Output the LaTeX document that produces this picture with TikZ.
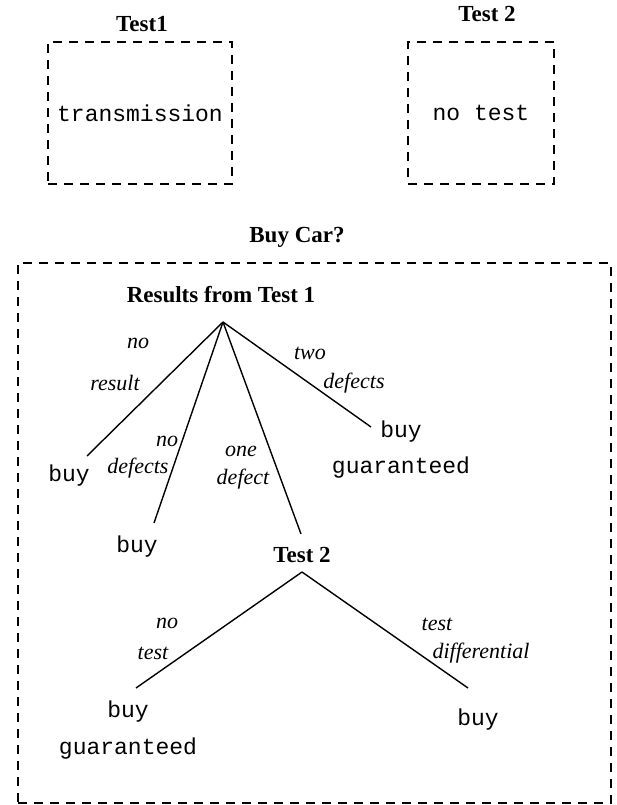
\documentclass[tikz,border=0pt]{standalone}
\usepackage{fontspec}
\setmainfont{Liberation Serif}
\setmonofont{Liberation Mono}
\tikzset{
  ttl/.style={font=\fontsize{23}{27}\selectfont\bfseries, inner sep=0pt},
  lbl/.style={font=\fontsize{22}{26}\selectfont\itshape, inner sep=0pt},
  mono/.style={font=\fontsize{23}{27}\selectfont\ttfamily, inner sep=0pt},
  dbox/.style={draw, line width=1.8pt, dash pattern=on 9pt off 7pt, inner sep=0pt},
  branch/.style={line width=1.4pt}
}
\begin{document}
\begin{tikzpicture}[x=1pt,y=-1pt]
\useasboundingbox (0,0) rectangle (616,805);
% top boxes
\node[ttl] (t1title) at (142,24) {Test1};
\node[dbox, mono, minimum width=184pt, minimum height=142pt] (t1box) at (140,113) {transmission};
\node[ttl] (t2title) at (487,14) {Test 2};
\node[dbox, mono, minimum width=146pt, minimum height=142pt] (t2box) at (481,113) {no test};
% big box
\node[ttl] (buycar) at (297,237) {Buy Car?};
\node[dbox, minimum width=593pt, minimum height=540pt] (bigbox) at (314.5,533) {};
% tree 1
\node[ttl] (res1) at (221,295) {Results from Test 1};
\coordinate (root) at (223,322);
\coordinate (e1) at (87,456);
\coordinate (e2) at (154,523);
\coordinate (e3) at (301,534);
\coordinate (e4) at (371,427);
\draw[branch] (root) -- (e1);
\draw[branch] (root) -- (e2);
\draw[branch] (root) -- (e3);
\draw[branch] (root) -- (e4);
\node[lbl] (l1a) at (138,343) {no};
\node[lbl] (l1b) at (115,383) {result};
\node[lbl] (l2a) at (167,441) {no};
\node[lbl] (l2b) at (138,468) {defects};
\node[lbl] (l3a) at (241,451) {one};
\node[lbl] (l3b) at (243,479) {defect};
\node[lbl] (l4a) at (310,353) {two};
\node[lbl] (l4b) at (354,383) {defects};
\node[mono] (buy1) at (69,476) {buy};
\node[mono] (buy2) at (137,547) {buy};
\node[mono] (buy4) at (401,432) {buy};
\node[mono] (gua4) at (401,468) {guaranteed};
% tree 2
\node[ttl] (t2) at (302,555) {Test 2};
\coordinate (apex) at (302,572);
\coordinate (f1) at (136,688);
\coordinate (f2) at (468,688);
\draw[branch] (apex) -- (f1);
\draw[branch] (apex) -- (f2);
\node[lbl] (m1a) at (167,623) {no};
\node[lbl] (m1b) at (153,653) {test};
\node[lbl] (m2a) at (437,624) {test};
\node[lbl] (m2b) at (481,653) {differential};
\node[mono] (buy5) at (128,712) {buy};
\node[mono] (gua5) at (128,749) {guaranteed};
\node[mono] (buy6) at (478,720) {buy};
\end{tikzpicture}
\end{document}
